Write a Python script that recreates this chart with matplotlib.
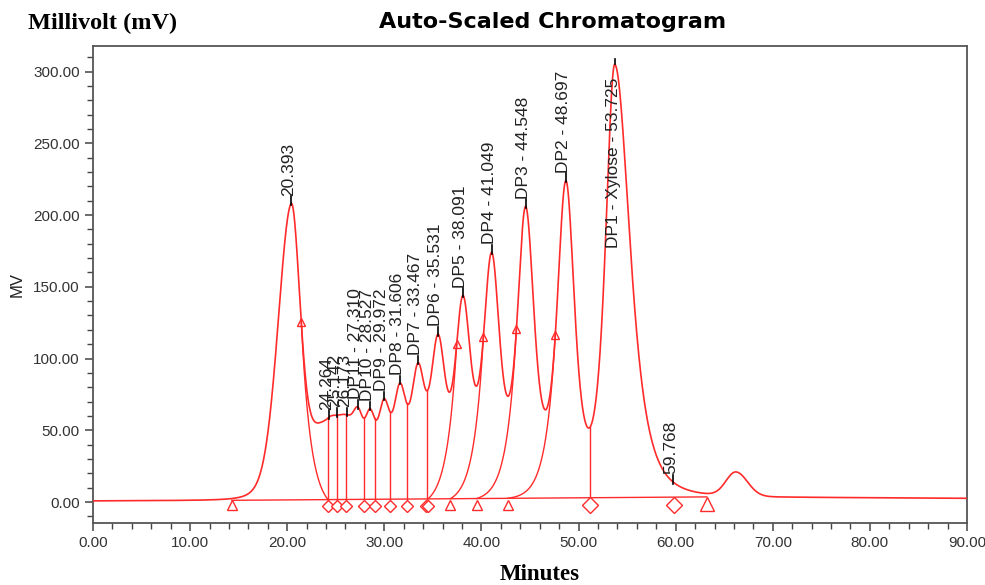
import numpy as np
import matplotlib
matplotlib.use("Agg")
import matplotlib.pyplot as plt
from matplotlib.ticker import MultipleLocator, FormatStrFormatter

# peak table (minutes, mV at apex, half widths)
peak_rt = [20.393, 24.264, 25.142, 26.173, 27.310, 28.527, 29.972, 31.606,
           33.467, 35.531, 38.091, 41.049, 44.548, 48.697, 53.725, 59.768, 66.20]
peak_height = [208, 58, 59, 60, 66, 65, 72, 83, 97, 117, 144, 174, 206, 224, 305, 11, 21]
hw_left = [1.6, 3.2, 1.0, 1.0, 0.7, 0.7, 0.75, 0.8, 0.85, 0.9, 0.95, 1.0, 1.0, 1.05, 1.1, 0.8, 1.2]
hw_right = [1.05, 1.4, 1.0, 1.0, 0.7, 0.7, 0.75, 0.8, 0.85, 0.9, 0.95, 1.0, 1.05, 1.05, 1.85, 0.8, 1.4]
gauss_frac = [0.7, 1.0, 1.0, 1.0, 0.0, 0.0, 0.0, 0.0, 0.0, 0.0, 0.0, 0.0, 0.0, 0.0, 0.0, 1.0, 1.0]

peak_labels = ["20.393", "24.264", "25.142", "26.173", "DP11 - 27.310", "DP10 - 28.527",
               "DP9 - 29.972", "DP8 - 31.606", "DP7 - 33.467", "DP6 - 35.531",
               "DP5 - 38.091", "DP4 - 41.049", "DP3 - 44.548", "DP2 - 48.697",
               "DP1 - Xylose - 53.725", "59.768", None]

# detector baseline drift
base_t = [0, 14, 63, 90]
base_v = [0.8, 1.2, 3.6, 2.6]

# integration events
int_start, int_end = 14.3, 63.2
drop_t = [24.2, 25.1, 26.1, 27.9, 29.0, 30.6, 32.3, 34.4, 51.2]
diamond_small = [24.2, 25.1, 26.1, 27.9, 29.0, 30.6, 32.3, 34.3, 34.5]
diamond_big = [51.2, 59.8]
tri_base_small = [14.3, 36.8, 39.5, 42.7]
tri_base_big = [63.2]
tri_trace = [21.45, 37.45, 40.2, 43.6, 47.6]
# skim curves: (baseline time, meeting time on trace)
skim_start = [24.2, 34.5, 36.8, 39.5, 42.7]
skim_end = [21.45, 37.45, 40.2, 43.6, 47.6]


def shape(t, rt, hl, hr, g):
    t = np.asarray(t, dtype=float)
    hw = np.where(t < rt, hl, hr)
    u = (t - rt) / hw
    pearson = (1 + u ** 2 * (np.sqrt(2) - 1)) ** -2
    return g * np.exp(-np.log(2) * u ** 2) + (1 - g) * pearson


def baseline(t):
    return np.interp(t, base_t, base_v)


n = len(peak_rt)
M = np.array([[shape(peak_rt[i], peak_rt[j], hw_left[j], hw_right[j], gauss_frac[j])
               for j in range(n)] for i in range(n)])
amps = np.linalg.solve(M, np.array(peak_height) - baseline(peak_rt))
amps = np.clip(amps, 0, None)

t = np.linspace(0, 90, 4000)
trace = baseline(t).copy()
for j in range(n):
    trace += amps[j] * shape(t, peak_rt[j], hw_left[j], hw_right[j], gauss_frac[j])


def trace_at(x):
    return np.interp(x, t, trace)


def int_base(x):
    return np.interp(x, [int_start, int_end], [baseline(int_start), baseline(int_end)])


red = "#ff2b2b"
fig = plt.figure(figsize=(9.85, 5.85), dpi=100)
ax = fig.add_axes([93 / 985, 1 - 523 / 585, (967 - 93) / 985, (523 - 46) / 585])

ax.plot(t, trace, color=red, lw=1.2, zorder=3)
xb = np.array([int_start, int_end])
ax.plot(xb, int_base(xb), color=red, lw=1.0, zorder=2)

# drop lines
for x in drop_t:
    ax.plot([x, x], [int_base(x), trace_at(x)], color=red, lw=1.0, zorder=2)

# skim curves
tau = 1.0
for ts, te in zip(skim_start, skim_end):
    xs = np.linspace(min(ts, te), max(ts, te), 200)
    h = trace_at(te) - int_base(te)
    d = abs(ts - te)
    w = (np.exp(-np.abs(xs - te) / tau) - np.exp(-d / tau)) / (1 - np.exp(-d / tau))
    ax.plot(xs, int_base(xs) + h * w, color=red, lw=1.0, zorder=2)

# markers
ax.plot(diamond_small, [-2.8] * len(diamond_small), "D", ms=6.5, mfc="white", mec=red, mew=1.0, zorder=4)
ax.plot(diamond_big, [-2.0] * len(diamond_big), "D", ms=8, mfc="white", mec=red, mew=1.0, zorder=4)
ax.plot(tri_base_small, [-1.8] * len(tri_base_small), "^", ms=6.5, mfc="white", mec=red, mew=1.0, zorder=4)
ax.plot(tri_base_big, [-1.5] * len(tri_base_big), "^", ms=10, mfc="white", mec=red, mew=1.0, zorder=4)
ax.plot(tri_trace, trace_at(tri_trace), "^", ms=6, mfc="none", mec=red, mew=1.0, zorder=4)

# peak labels
for rt, lab in zip(peak_rt, peak_labels):
    if lab is None:
        continue
    y = trace_at(rt)
    if lab.startswith("DP1 "):
        ax.plot([rt, rt], [y, y + 4], color="black", lw=1.2, zorder=5)
        ax.text(rt - 0.15, y - 9, lab, rotation=90, ha="center", va="top",
                fontsize=12.5, color="#222222", family="Liberation Sans", zorder=6)
    else:
        ax.plot([rt, rt], [y - 1, y + 5], color="black", lw=1.2, zorder=5)
        ax.text(rt - 0.25, y + 5.5, lab, rotation=90, ha="center", va="bottom",
                fontsize=12.5, color="#222222", family="Liberation Sans", zorder=6)

ax.set_xlim(0, 90)
ax.set_ylim(-14.6, 317.8)
ax.xaxis.set_major_locator(MultipleLocator(10))
ax.xaxis.set_minor_locator(MultipleLocator(2))
ax.yaxis.set_major_locator(MultipleLocator(50))
ax.yaxis.set_minor_locator(MultipleLocator(10))
ax.xaxis.set_major_formatter(FormatStrFormatter("%.2f"))
ax.yaxis.set_major_formatter(FormatStrFormatter("%.2f"))
ax.tick_params(which="major", direction="out", length=6, width=1.1, color="#444444",
               labelsize=11, labelcolor="#333333")
ax.tick_params(which="minor", direction="out", length=4, width=1.0, color="#444444")
for lab in ax.get_xticklabels() + ax.get_yticklabels():
    lab.set_family("Liberation Sans")
for sp in ax.spines.values():
    sp.set_color("#555555")
    sp.set_linewidth(1.3)

ax.set_ylabel("MV", fontsize=12, family="Liberation Sans", color="#222222", labelpad=6)
fig.text(28 / 985, 1 - 23 / 585, "Millivolt (mV)", fontsize=17.5, fontweight="bold",
         family="Liberation Serif", ha="left", va="center")
fig.text(553 / 985, 1 - 22 / 585, "Auto-Scaled Chromatogram", fontsize=16, fontweight="bold",
         family="DejaVu Sans", ha="center", va="center")
fig.text(540 / 985, 1 - 575 / 585, "Minutes", fontsize=16.5, fontweight="bold",
         family="Liberation Serif", ha="center", va="center")

fig.savefig("out.png", dpi=100)
